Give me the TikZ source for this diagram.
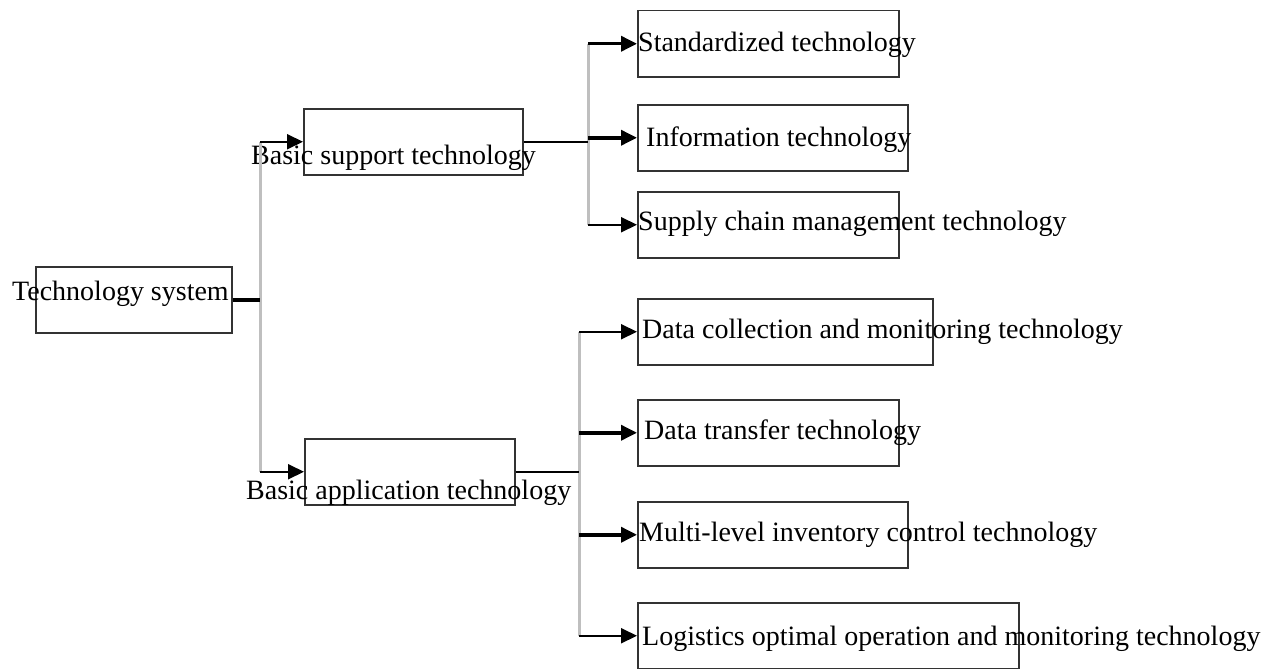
\documentclass[tikz,border=0pt]{standalone}
\usepackage{fontspec}
\setmainfont{Liberation Serif}
\usetikzlibrary{arrows.meta}
\tikzset{
	techbox/.style={draw=black!80,line width=1.5pt,minimum width=#1,minimum height=66pt,inner sep=0pt,anchor=north west},%
	techtext/.style={inner sep=0pt,anchor=base west,font=\fontsize{28}{34}\selectfont},%
	bus/.style={black!25,line width=3pt},%
	link/.style={line width=1.8pt},%
	feed/.style={line width=2pt,-{Triangle[length=16pt,width=15pt]}},%
	heavy/.style={line width=3.5pt},%
}

\begin{document}
\begin{tikzpicture}[%
		x=1pt,y=-1pt,%
		]
		\useasboundingbox (0,0) rectangle (1274,669);
		% boxes
		\node[techbox=196pt] (system) at (35,266) {};
		\node[techbox=219pt] (support) at (303,108) {};
		\node[techbox=210pt] (application) at (304,438) {};
		\node[techbox=261pt] (standard) at (637,10) {};
		\node[techbox=270pt] (information) at (637,104) {};
		\node[techbox=261pt] (supply) at (637,191) {};
		\node[techbox=295pt] (collection) at (637,298) {};
		\node[techbox=261pt] (transfer) at (637,399) {};
		\node[techbox=270pt] (inventory) at (637,501) {};
		\node[techbox=381pt] (logistics) at (637,602) {};
		% texts
		\node[techtext] (t-system) at (12,300) {Technology system};
		\node[techtext] (t-support) at (251,164) {Basic support technology};
		\node[techtext] (t-application) at (246,499) {Basic application technology};
		\node[techtext] (t-standard) at (638,52) {Standardized technology};
		\node[techtext] (t-information) at (646,146) {Information technology};
		\node[techtext] (t-supply) at (638,230) {Supply chain management technology};
		\node[techtext] (t-collection) at (642,338) {Data collection and monitoring technology};
		\node[techtext] (t-transfer) at (644,439) {Data transfer technology};
		\node[techtext] (t-inventory) at (639,541) {Multi-level inventory control technology};
		\node[techtext] (t-logistics) at (642,645) {Logistics optimal operation and monitoring technology};
		% buses
		\coordinate (busA) at (260,0);
		\coordinate (busB) at (588,0);
		\coordinate (busC) at (579,0);
		\draw[bus] (support.west -| busA) -- (application.west -| busA);
		\draw[bus] (standard.west -| busB) -- (supply.west -| busB);
		\draw[bus] (collection.west -| busC) -- (logistics.west -| busC);
		% connectors
		\draw[link,heavy] (system.east) -- (system.east -| busA);
		\draw[feed] (support.west -| busA) -- (support.west);
		\draw[feed] (application.west -| busA) -- (application.west);
		\draw[link] (support.east) -- (support.east -| busB);
		\draw[feed,heavy] (standard.west -| busB) -- (standard.west);
		\draw[feed,heavy] (information.west -| busB) -- (information.west);
		\draw[feed] (supply.west -| busB) -- (supply.west);
		\draw[link] (application.east) -- (application.east -| busC);
		\draw[feed] (collection.west -| busC) -- (collection.west);
		\draw[feed,heavy] (transfer.west -| busC) -- (transfer.west);
		\draw[feed,heavy] (inventory.west -| busC) -- (inventory.west);
		\draw[feed] (logistics.west -| busC) -- (logistics.west);
	\end{tikzpicture}
\end{document}
